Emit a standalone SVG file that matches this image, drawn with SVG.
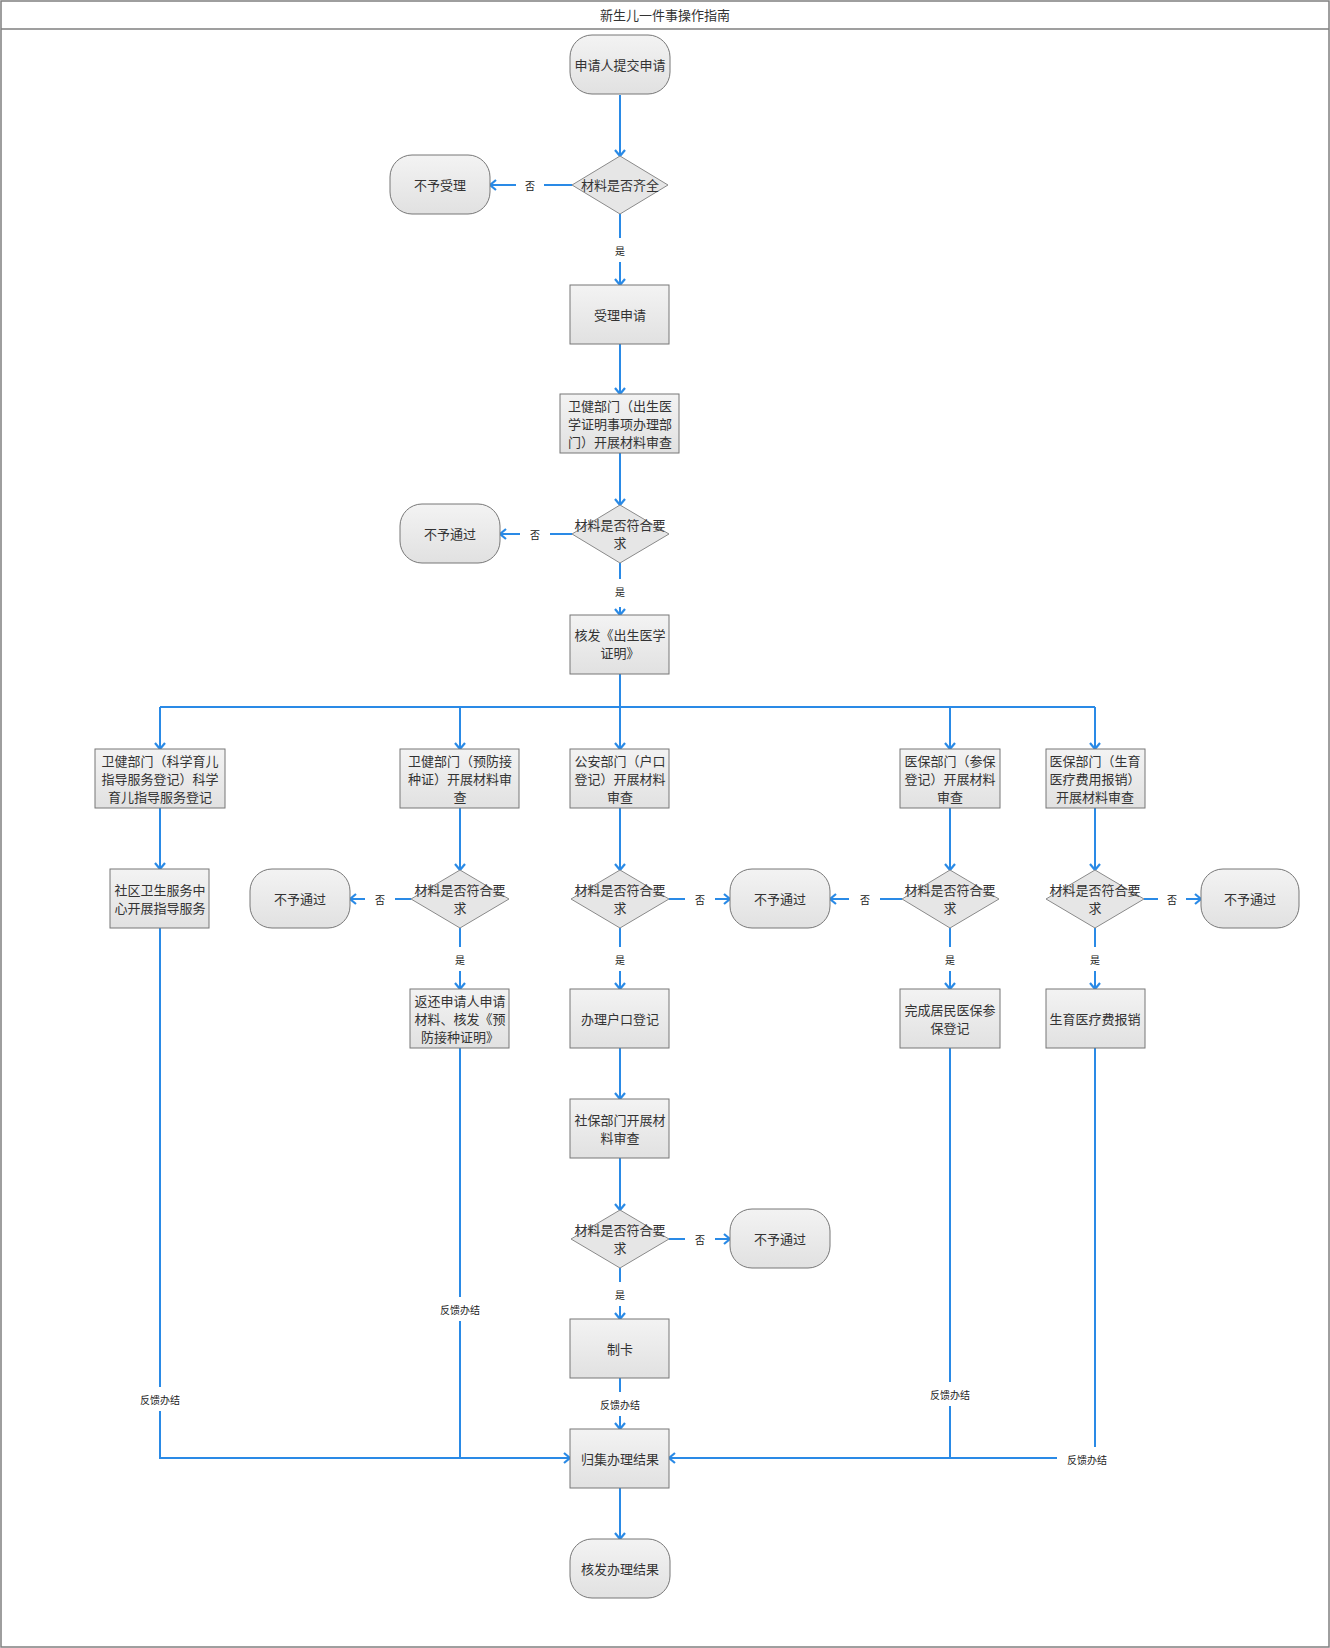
<svg xmlns="http://www.w3.org/2000/svg" width="1330" height="1648" viewBox="0 0 1330 1648">
<style>
.frame{fill:#fff;stroke:#7f7f7f;stroke-width:1.5}
.box{fill:url(#g);stroke:#777;stroke-width:1}
.term{fill:url(#g);stroke:#777;stroke-width:1}
.dia{fill:#e6e6e6;stroke:#8a8a8a;stroke-width:1}
.t{font-family:"Noto Sans CJK SC","Liberation Sans",sans-serif;font-size:13px;fill:#333;text-anchor:middle;dominant-baseline:central;transform:translateY(-1px)}
.lb{font-family:"Noto Sans CJK SC","Liberation Sans",sans-serif;font-size:10px;fill:#222;text-anchor:middle;dominant-baseline:central}
.c{fill:none;stroke:#2a8ae6;stroke-width:2}
.a{marker-end:url(#arr)}
.bg{fill:#fff}
</style>
<defs>
<linearGradient id="g" x1="0" y1="0" x2="0" y2="1">
<stop offset="0" stop-color="#f3f3f3"/>
<stop offset="1" stop-color="#e1e1e1"/>
</linearGradient>
<marker id="arr" markerWidth="12" markerHeight="12" refX="10" refY="6" orient="auto" markerUnits="userSpaceOnUse">
<path d="M4,1 L10,6 L4,11" fill="none" stroke="#2a8ae6" stroke-width="2.2"/>
</marker>
</defs>
<rect class="frame" x="1" y="1" width="1328" height="1646"/>
<line x1="1" y1="29" x2="1329" y2="29" stroke="#7f7f7f" stroke-width="1.5"/>
<text class="t" x="665" y="15">新生儿一件事操作指南</text>

<g id="connectors">
<path class="c a" d="M620,95 V156"/>
<path class="c a" d="M572,185 H490"/>
<path class="c a" d="M620,214 V285"/>
<path class="c a" d="M620,344 V394"/>
<path class="c a" d="M620,453 V505"/>
<path class="c a" d="M572,534 H500"/>
<path class="c a" d="M620,563 V615"/>
<path class="c" d="M620,673 V707 M160,707 H1095"/>
<path class="c a" d="M160,707 V749"/>
<path class="c a" d="M460,707 V749"/>
<path class="c a" d="M620,707 V749"/>
<path class="c a" d="M950,707 V749"/>
<path class="c a" d="M1095,707 V749"/>
<path class="c a" d="M160,808 V869"/>
<path class="c a" d="M460,808 V870"/>
<path class="c a" d="M620,808 V870"/>
<path class="c a" d="M950,808 V870"/>
<path class="c a" d="M1095,808 V870"/>
<path class="c a" d="M411,899 H350"/>
<path class="c a" d="M669,899 H730"/>
<path class="c a" d="M902,899 H830"/>
<path class="c a" d="M1144,899 H1201"/>
<path class="c a" d="M460,928 V989"/>
<path class="c a" d="M620,928 V989"/>
<path class="c a" d="M950,928 V989"/>
<path class="c a" d="M1095,928 V989"/>
<path class="c a" d="M620,1048 V1099"/>
<path class="c a" d="M620,1158 V1210"/>
<path class="c a" d="M669,1239 H730"/>
<path class="c a" d="M620,1268 V1319"/>
<path class="c a" d="M620,1378 V1429"/>
<path class="c a" d="M160,928 V1458 H570"/>
<path class="c" d="M460,1048 V1458"/>
<path class="c a" d="M950,1048 V1458 H669"/>
<path class="c" d="M1095,1048 V1458 H950"/>
<path class="c a" d="M620,1488 V1539"/>
<g id="labels">
<rect class="bg" x="516" y="177" width="28" height="16"/><text class="lb" x="530" y="185">否</text>
<rect class="bg" x="612" y="238" width="16" height="24"/><text class="lb" x="620" y="250">是</text>
<rect class="bg" x="520" y="526" width="30" height="16"/><text class="lb" x="535" y="534">否</text>
<rect class="bg" x="612" y="579" width="16" height="28"/><text class="lb" x="620" y="591">是</text>
<rect class="bg" x="365" y="891" width="30" height="16"/><text class="lb" x="380" y="899">否</text>
<rect class="bg" x="685" y="891" width="30" height="16"/><text class="lb" x="700" y="899">否</text>
<rect class="bg" x="849" y="891" width="31" height="16"/><text class="lb" x="865" y="899">否</text>
<rect class="bg" x="1158" y="891" width="28" height="16"/><text class="lb" x="1172" y="899">否</text>
<rect class="bg" x="452" y="947" width="16" height="24"/><text class="lb" x="460" y="959">是</text>
<rect class="bg" x="612" y="947" width="16" height="24"/><text class="lb" x="620" y="959">是</text>
<rect class="bg" x="942" y="947" width="16" height="24"/><text class="lb" x="950" y="959">是</text>
<rect class="bg" x="1087" y="947" width="16" height="24"/><text class="lb" x="1095" y="959">是</text>
<rect class="bg" x="685" y="1231" width="30" height="16"/><text class="lb" x="700" y="1239">否</text>
<rect class="bg" x="612" y="1282" width="16" height="24"/><text class="lb" x="620" y="1294">是</text>
<rect class="bg" x="598" y="1392" width="44" height="24"/><text class="lb" x="620" y="1404">反馈办结</text>
<rect class="bg" x="138" y="1387" width="44" height="24"/><text class="lb" x="160" y="1399">反馈办结</text>
<rect class="bg" x="438" y="1297" width="44" height="24"/><text class="lb" x="460" y="1309">反馈办结</text>
<rect class="bg" x="928" y="1382" width="44" height="24"/><text class="lb" x="950" y="1394">反馈办结</text>
<rect class="bg" x="1057" y="1447" width="50" height="24"/><text class="lb" x="1087" y="1459">反馈办结</text>
</g>
</g>

<g id="n_start"><rect class="term" x="570" y="35" width="100" height="59" rx="22"/><text class="t" x="620" y="65">申请人提交申请</text></g>
<g id="n_d1"><polygon class="dia" points="620,156 668,185 620,214 572,185"/><text class="t" x="620" y="185">材料是否齐全</text></g>
<g id="n_reject1"><rect class="term" x="390" y="155" width="100" height="59" rx="22"/><text class="t" x="440" y="185">不予受理</text></g>
<g id="n_accept"><rect class="box" x="570" y="285" width="99" height="59"/><text class="t" x="620" y="315">受理申请</text></g>
<g id="n_birth_review"><rect class="box" x="560" y="394" width="119" height="59"/><text class="t" x="620"><tspan x="620" y="406">卫健部门（出生医</tspan><tspan x="620" y="424">学证明事项办理部</tspan><tspan x="620" y="442">门）开展材料审查</tspan></text></g>
<g id="n_d2"><polygon class="dia" points="620,505 669,534 620,563 572,534"/><text class="t" x="620"><tspan x="620" y="525">材料是否符合要</tspan><tspan x="620" y="543">求</tspan></text></g>
<g id="n_reject2"><rect class="term" x="400" y="504" width="100" height="59" rx="22"/><text class="t" x="450" y="534">不予通过</text></g>
<g id="n_issue_birth"><rect class="box" x="570" y="615" width="99" height="59"/><text class="t" x="620"><tspan x="620" y="635">核发《出生医学</tspan><tspan x="620" y="653">证明》</tspan></text></g>

<g id="n_parenting"><rect class="box" x="95" y="749" width="130" height="59"/><text class="t" x="160"><tspan x="160" y="761">卫健部门（科学育儿</tspan><tspan x="160" y="779">指导服务登记）科学</tspan><tspan x="160" y="797">育儿指导服务登记</tspan></text></g>
<g id="n_community"><rect class="box" x="110" y="869" width="99" height="59"/><text class="t" x="160"><tspan x="160" y="890">社区卫生服务中</tspan><tspan x="160" y="908">心开展指导服务</tspan></text></g>

<g id="n_vacc_review"><rect class="box" x="400" y="749" width="119" height="59"/><text class="t" x="460"><tspan x="460" y="761">卫健部门（预防接</tspan><tspan x="460" y="779">种证）开展材料审</tspan><tspan x="460" y="797">查</tspan></text></g>
<g id="n_d_vacc"><polygon class="dia" points="460,870 509,899 460,928 411,899"/><text class="t" x="460"><tspan x="460" y="890">材料是否符合要</tspan><tspan x="460" y="908">求</tspan></text></g>
<g id="n_reject_vacc"><rect class="term" x="250" y="869" width="100" height="59" rx="22"/><text class="t" x="300" y="899">不予通过</text></g>
<g id="n_vacc_issue"><rect class="box" x="410" y="989" width="99" height="59"/><text class="t" x="460"><tspan x="460" y="1001">返还申请人申请</tspan><tspan x="460" y="1019">材料、核发《预</tspan><tspan x="460" y="1037">防接种证明》</tspan></text></g>

<g id="n_police_review"><rect class="box" x="570" y="749" width="99" height="59"/><text class="t" x="620"><tspan x="620" y="761">公安部门（户口</tspan><tspan x="620" y="779">登记）开展材料</tspan><tspan x="620" y="797">审查</tspan></text></g>
<g id="n_d_police"><polygon class="dia" points="620,870 669,899 620,928 571,899"/><text class="t" x="620"><tspan x="620" y="890">材料是否符合要</tspan><tspan x="620" y="908">求</tspan></text></g>
<g id="n_reject_mid"><rect class="term" x="730" y="869" width="100" height="59" rx="22"/><text class="t" x="780" y="899">不予通过</text></g>
<g id="n_hukou"><rect class="box" x="570" y="989" width="99" height="59"/><text class="t" x="620" y="1019">办理户口登记</text></g>
<g id="n_social_review"><rect class="box" x="570" y="1099" width="99" height="59"/><text class="t" x="620"><tspan x="620" y="1120">社保部门开展材</tspan><tspan x="620" y="1138">料审查</tspan></text></g>
<g id="n_d_social"><polygon class="dia" points="620,1210 669,1239 620,1268 571,1239"/><text class="t" x="620"><tspan x="620" y="1230">材料是否符合要</tspan><tspan x="620" y="1248">求</tspan></text></g>
<g id="n_reject_social"><rect class="term" x="730" y="1209" width="100" height="59" rx="22"/><text class="t" x="780" y="1239">不予通过</text></g>
<g id="n_card"><rect class="box" x="570" y="1319" width="99" height="59"/><text class="t" x="620" y="1349">制卡</text></g>

<g id="n_med_review"><rect class="box" x="900" y="749" width="100" height="59"/><text class="t" x="950"><tspan x="950" y="761">医保部门（参保</tspan><tspan x="950" y="779">登记）开展材料</tspan><tspan x="950" y="797">审查</tspan></text></g>
<g id="n_d_med"><polygon class="dia" points="950,870 999,899 950,928 902,899"/><text class="t" x="950"><tspan x="950" y="890">材料是否符合要</tspan><tspan x="950" y="908">求</tspan></text></g>
<g id="n_med_done"><rect class="box" x="900" y="989" width="100" height="59"/><text class="t" x="950"><tspan x="950" y="1010">完成居民医保参</tspan><tspan x="950" y="1028">保登记</tspan></text></g>

<g id="n_birthins_review"><rect class="box" x="1046" y="749" width="99" height="59"/><text class="t" x="1095"><tspan x="1095" y="761">医保部门（生育</tspan><tspan x="1095" y="779">医疗费用报销）</tspan><tspan x="1095" y="797">开展材料审查</tspan></text></g>
<g id="n_d_birthins"><polygon class="dia" points="1095,870 1144,899 1095,928 1046,899"/><text class="t" x="1095"><tspan x="1095" y="890">材料是否符合要</tspan><tspan x="1095" y="908">求</tspan></text></g>
<g id="n_reject_right"><rect class="term" x="1201" y="869" width="98" height="59" rx="22"/><text class="t" x="1250" y="899">不予通过</text></g>
<g id="n_birthins_done"><rect class="box" x="1046" y="989" width="99" height="59"/><text class="t" x="1095" y="1019">生育医疗费报销</text></g>

<g id="n_collect"><rect class="box" x="570" y="1429" width="99" height="59"/><text class="t" x="620" y="1459">归集办理结果</text></g>
<g id="n_end"><rect class="term" x="570" y="1539" width="100" height="59" rx="22"/><text class="t" x="620" y="1569">核发办理结果</text></g>
</svg>
